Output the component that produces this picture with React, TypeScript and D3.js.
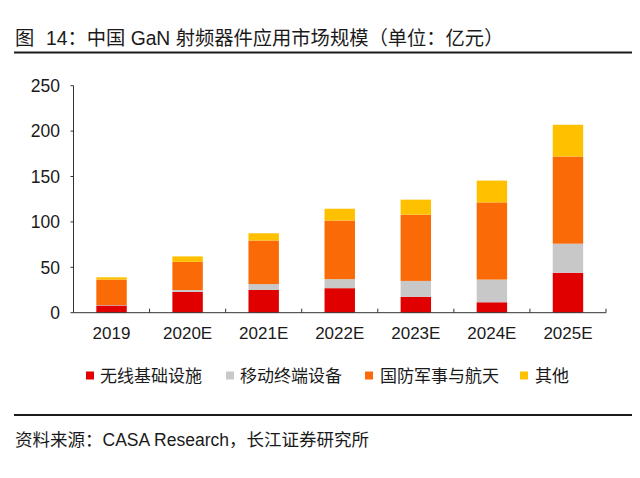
import React from "react";
import * as d3 from "d3";

const categories = ["2019", "2020E", "2021E", "2022E", "2023E", "2024E", "2025E"];
const seriesNames = ["无线基础设施", "移动终端设备", "国防军事与航天", "其他"];
const wireless = [8, 23, 25, 27, 17.5, 11.5, 44];
const mobile = [0.5, 2, 6.5, 10, 17.5, 25, 32];
const defense = [28, 31, 48, 64.5, 73, 85, 96];
const others = [2.5, 6, 8, 13, 16.5, 24, 35];
const yTicks = [0, 50, 100, 150, 200, 250];
const colors = ["#E00000", "#C8C8C8", "#FA6A06", "#FFC000"];

const titleLead = "图";
const titleText = "14：中国 GaN 射频器件应用市场规模（单位：亿元）";
const sourceText = "资料来源：CASA Research，长江证券研究所";

const FONT = "'Liberation Sans', Arial, 'Noto Sans CJK SC', sans-serif";

export default function App() {
  const W = 640, H = 478;
  const left = 73.5, right = 606, top = 85.7, bottom = 312.7;

  const rows = categories.map((c, i) => ({
    cat: c,
    s0: wireless[i],
    s1: mobile[i],
    s2: defense[i],
    s3: others[i],
  }));
  const keys = ["s0", "s1", "s2", "s3"];
  const stacked = d3.stack<any>().keys(keys)(rows);

  const x = d3.scaleBand<string>().domain(categories).range([left, right]).paddingInner(0.6).paddingOuter(0.3);
  const y = d3.scaleLinear().domain([0, 250]).range([bottom, top]);
  const step = x.step();
  const boundaries = d3.range(categories.length + 1).map((i) => left + i * step);

  const legendItems = [
    { sq: 86, tx: 100 },
    { sq: 226, tx: 240 },
    { sq: 365, tx: 380 },
    { sq: 520, tx: 535 },
  ];

  return (
    <svg width={W} height={H} style={{ position: "absolute", left: 0, top: 0, background: "#fff" }} fontFamily={FONT}>
      <rect x={0} y={0} width={W} height={H} fill="#fff" />
      <text x={15} y={45} fontSize={19.3} fill="#1a1a1a">{titleLead}</text>
      <text x={46} y={45} fontSize={19.3} fill="#1a1a1a">{titleText}</text>
      <line x1={14} x2={632} y1={52.5} y2={52.5} stroke="#1a1a1a" strokeWidth={2} />

      {stacked.map((layer, li) => (
        <g key={li} fill={colors[li]}>
          {layer.map((d: any, i: number) => (
            <rect
              key={i}
              x={x(categories[i])}
              width={x.bandwidth()}
              y={y(d[1])}
              height={Math.max(0, y(d[0]) - y(d[1]))}
            />
          ))}
        </g>
      ))}

      {/* y axis */}
      <line x1={left} x2={left} y1={top} y2={bottom} stroke="#333" strokeWidth={1} />
      {yTicks.map((t) => (
        <g key={t}>
          <line x1={left - 3} x2={left} y1={y(t)} y2={y(t)} stroke="#333" strokeWidth={1} />
          <text x={60} y={y(t)} dy="0.36em" textAnchor="end" fontSize={17.5} fill="#1a1a1a">{t}</text>
        </g>
      ))}

      {/* x axis */}
      <line x1={left} x2={right} y1={bottom} y2={bottom} stroke="#333" strokeWidth={1} />
      {boundaries.slice(1).map((b, i) => (
        <line key={i} x1={b} x2={b} y1={bottom - 4} y2={bottom} stroke="#333" strokeWidth={1} />
      ))}
      {categories.map((c) => (
        <text key={c} x={(x(c) as number) + x.bandwidth() / 2} y={339} textAnchor="middle" fontSize={17} fill="#1a1a1a">{c}</text>
      ))}

      {/* legend */}
      {seriesNames.map((n, i) => (
        <g key={n}>
          <rect x={legendItems[i].sq} y={371.5} width={8} height={8} fill={colors[i]} />
          <text x={legendItems[i].tx} y={382} fontSize={17} fill="#1a1a1a">{n}</text>
        </g>
      ))}

      <line x1={14} x2={632} y1={415} y2={415} stroke="#1a1a1a" strokeWidth={2} />
      <text x={15} y={446} fontSize={17.5} fill="#1a1a1a">{sourceText}</text>
    </svg>
  );
}
